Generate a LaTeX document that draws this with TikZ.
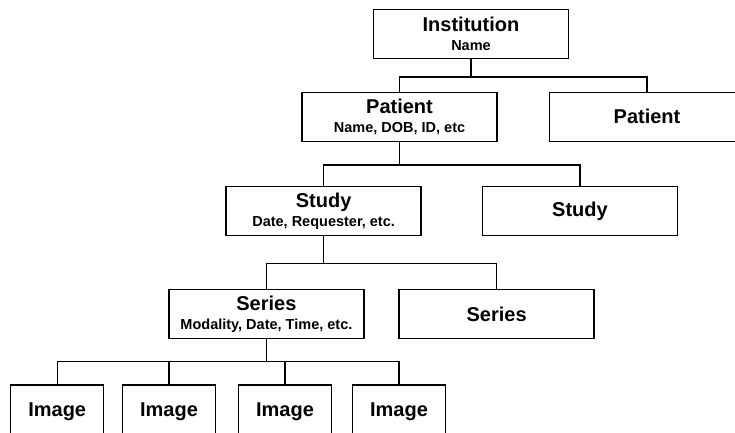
\documentclass[tikz,border=0pt]{standalone}
\usepackage{fontspec}
\setmainfont{Liberation Sans}
\begin{document}
\begin{tikzpicture}[x=1pt,y=-1pt,
  box/.style={draw=black,line width=1.4pt,fill=white,minimum width=195pt,
    minimum height=49pt,inner sep=0pt,align=center,
    font=\bfseries\fontsize{20}{20}\selectfont},
  imgbox/.style={box,minimum width=93pt,minimum height=53pt},
  sub/.style={},
  link/.style={draw=black,line width=1.2pt}]
\useasboundingbox (0,0) rectangle (735,432);
\fill[white] (0,0) rectangle (735,432);
\clip (0,0) rectangle (735,432);

% hierarchy levels
\node[box] (inst) at (471,33.7) {Institution\\[-1pt]{\fontsize{14.5}{14.5}\selectfont Name}};
\node[box] (patA) at (399.5,116.7) {Patient\\[-1pt]{\fontsize{14.5}{14.5}\selectfont Name, DOB, ID, etc}};
\node[box] (patB) at (647,116.7) {Patient};
\node[box] (stA) at (323.6,211) {Study\\[-1pt]{\fontsize{14.5}{14.5}\selectfont Date, Requester, etc.}};
\node[box] (stB) at (580,211) {Study};
\node[box] (seA) at (266.4,314.2) {Series\\[-1pt]{\fontsize{14.5}{14.5}\selectfont Modality, Date, Time, etc.}};
\node[box] (seB) at (496.6,314.2) {Series};
\node[imgbox] (imA) at (57.2,411.5) {Image};
\node[imgbox] (imB) at (169,411.5) {Image};
\node[imgbox] (imC) at (285,411.5) {Image};
\node[imgbox] (imD) at (399,411.5) {Image};

% elbow connectors from each parent to its children
\foreach \c in {patA,patB} \draw[link] (inst.south) -- ++(0,18) -| (\c.north);
\foreach \c in {stA,stB} \draw[link] (patA.south) -- ++(0,23) -| (\c.north);
\foreach \c in {seA,seB} \draw[link] (stA.south) -- ++(0,27) -| (\c.north);
\foreach \c in {imA,imB,imC,imD} \draw[link] (seA.south) -- ++(0,22) -| (\c.north);
\end{tikzpicture}
\end{document}
